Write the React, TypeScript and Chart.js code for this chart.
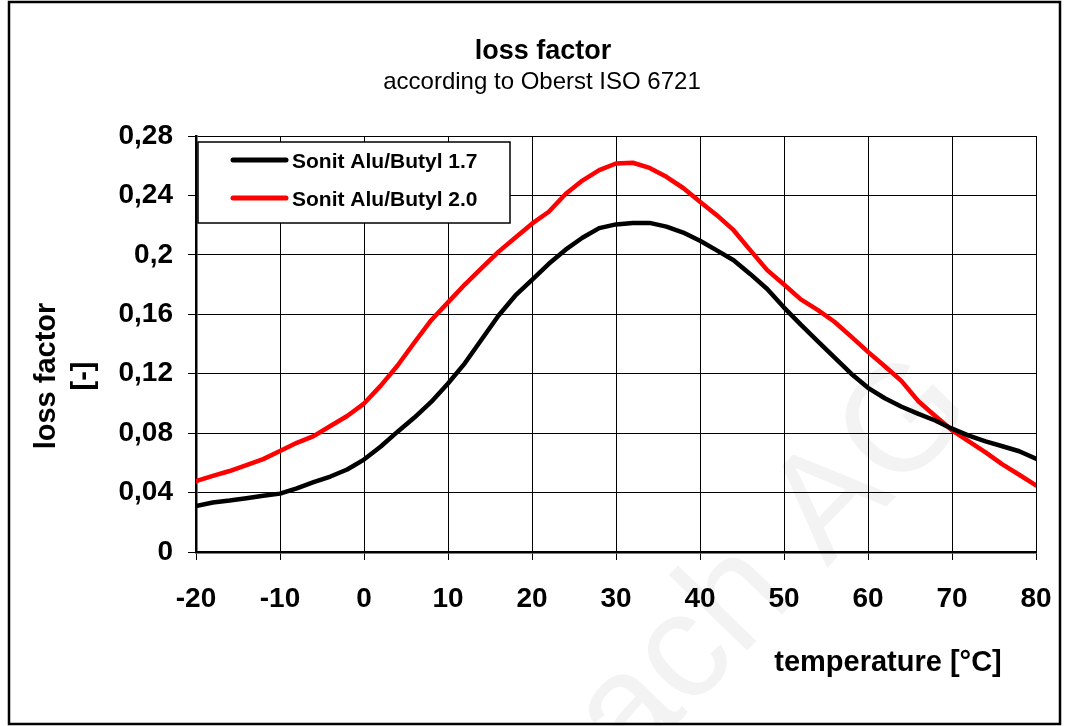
import React, { useEffect, useRef } from "react";
import { Chart, registerables } from "chart.js";

Chart.register(...registerables);

const temperatures = [
  -20, -18, -16, -14, -12, -10, -8, -6, -4, -2, 0, 2, 4, 6, 8, 10, 12, 14, 16, 18,
  20, 22, 24, 26, 28, 30, 32, 34, 36, 38, 40, 42, 44, 46, 48, 50, 52, 54, 56, 58,
  60, 62, 64, 66, 68, 70, 72, 74, 76, 78, 80,
];

const sonit17 = [
  0.031, 0.0333, 0.0346, 0.0362, 0.0378, 0.0393, 0.0428, 0.047, 0.0508, 0.0555,
  0.0622, 0.071, 0.081, 0.0905, 0.101, 0.1134, 0.127, 0.143, 0.159, 0.1725,
  0.1832, 0.194, 0.2035, 0.2115, 0.218, 0.2205, 0.2215, 0.2215, 0.219, 0.215,
  0.2095, 0.203, 0.1964, 0.187, 0.177, 0.1645, 0.153, 0.142, 0.131, 0.12,
  0.1105, 0.1035, 0.0978, 0.093, 0.0885, 0.083, 0.0783, 0.0745, 0.0712, 0.0678,
  0.0628,
];

const sonit20 = [
  0.0478, 0.0512, 0.0545, 0.0584, 0.0625, 0.068, 0.0735, 0.078, 0.0848, 0.0915,
  0.0999, 0.112, 0.1255, 0.141, 0.156, 0.168, 0.18, 0.191, 0.202, 0.2115,
  0.221, 0.229, 0.241, 0.25, 0.257, 0.2615, 0.262, 0.2585, 0.2525, 0.245,
  0.2357, 0.2267, 0.2166, 0.203, 0.1897, 0.18, 0.17, 0.163, 0.155, 0.145,
  0.1347, 0.125, 0.115, 0.1015, 0.0915, 0.0819, 0.0745, 0.067, 0.059, 0.052,
  0.0449,
];

const xTickLabels = ["-20", "-10", "0", "10", "20", "30", "40", "50", "60", "70", "80"];
const yTickLabels = ["0", "0,04", "0,08", "0,12", "0,16", "0,2", "0,24", "0,28"];
const seriesNames = ["Sonit Alu/Butyl 1.7", "Sonit Alu/Butyl 2.0"];
const seriesColors = ["#000000", "#ff0000"];
const titleText = "loss factor";
const subtitleText = "according to Oberst ISO 6721";
const yTitleLines = ["loss factor", "[-]"];
const xTitleText = "temperature [°C]";
const watermarkText = "ach AG";

const FONT = '"Liberation Sans", Arial, Helvetica, sans-serif';

const decorations = {
  id: "decorations",
  beforeDraw(chart: any) {
    const ctx = chart.ctx as CanvasRenderingContext2D;
    ctx.save();
    ctx.fillStyle = "#ffffff";
    ctx.fillRect(0, 0, chart.width, chart.height);
    ctx.translate(630, 772);
    ctx.rotate((-46 * Math.PI) / 180);
    ctx.font = `150px ${FONT}`;
    ctx.fillStyle = "#f3f3f3";
    ctx.textAlign = "left";
    ctx.textBaseline = "alphabetic";
    ctx.fillText(watermarkText, 0, 0);
    ctx.restore();
  },
  afterDraw(chart: any) {
    const ctx = chart.ctx as CanvasRenderingContext2D;
    ctx.save();
    // outer frame
    ctx.strokeStyle = "#000";
    ctx.lineWidth = 2.5;
    ctx.strokeRect(9, 2, 1051, 722);

    // titles
    ctx.fillStyle = "#000";
    ctx.textAlign = "center";
    ctx.textBaseline = "alphabetic";
    ctx.font = `bold 27px ${FONT}`;
    ctx.fillText(titleText, 543, 59);
    ctx.font = `24px ${FONT}`;
    ctx.fillText(subtitleText, 542, 89);

    // y axis title (two rotated lines)
    ctx.font = `bold 29px ${FONT}`;
    ctx.save();
    ctx.translate(55, 376);
    ctx.rotate(-Math.PI / 2);
    ctx.fillText(yTitleLines[0], 0, 0);
    ctx.restore();
    ctx.save();
    ctx.translate(92, 376);
    ctx.rotate(-Math.PI / 2);
    ctx.fillText(yTitleLines[1], 0, 0);
    ctx.restore();

    // x axis title
    ctx.fillText(xTitleText, 888, 671);

    // legend
    const bx = 198, by = 142, bw = 312, bh = 81;
    ctx.fillStyle = "#fff";
    ctx.fillRect(bx, by, bw, bh);
    ctx.strokeStyle = "#000";
    ctx.lineWidth = 1.5;
    ctx.strokeRect(bx, by, bw, bh);
    const rows = [160, 198];
    ctx.font = `bold 21px ${FONT}`;
    ctx.textAlign = "left";
    ctx.textBaseline = "middle";
    seriesNames.forEach((name, i) => {
      ctx.strokeStyle = seriesColors[i];
      ctx.lineWidth = 5;
      ctx.lineCap = "round";
      ctx.beginPath();
      ctx.moveTo(233, rows[i]);
      ctx.lineTo(286, rows[i]);
      ctx.stroke();
      ctx.fillStyle = "#000";
      ctx.fillText(name, 292, rows[i] + 2);
    });
    ctx.restore();
  },
};

export default function App() {
  const canvasRef = useRef<HTMLCanvasElement | null>(null);

  useEffect(() => {
    if (!canvasRef.current) return;
    const datasets = [sonit17, sonit20].map((vals, i) => ({
      label: seriesNames[i],
      data: temperatures.map((t, j) => ({ x: t, y: vals[j] })),
      borderColor: seriesColors[i],
      backgroundColor: seriesColors[i],
      borderWidth: 4.5,
      pointRadius: 0,
      tension: 0,
      borderJoinStyle: "round" as const,
      borderCapStyle: "round" as const,
      fill: false,
    }));

    const chart = new Chart(canvasRef.current, {
      type: "line",
      data: { datasets },
      plugins: [decorations],
      options: {
        animation: false,
        responsive: false,
        maintainAspectRatio: false,
        layout: { padding: { top: 136, right: 32, left: 0, bottom: 0 } },
        plugins: {
          legend: { display: false },
          title: { display: false },
          tooltip: { enabled: false },
        },
        scales: {
          x: {
            type: "linear",
            min: -20,
            max: 80,
            afterFit: (scale: any) => {
              scale.height = 174;
              scale.paddingRight = 0;
              scale.paddingLeft = 0;
            },
            ticks: {
              stepSize: 10,
              padding: 22,
              color: "#000",
              font: { family: FONT, size: 28, weight: "bold" },
              callback: (_v: any, index: number) => xTickLabels[index],
            },
            grid: {
              color: "#000",
              lineWidth: 1,
              drawTicks: true,
              tickLength: 8,
            },
            border: { display: true, color: "#000", width: 2.5 },
          },
          y: {
            type: "linear",
            min: 0,
            max: 0.28,
            afterFit: (scale: any) => {
              scale.width = 196;
              scale.paddingTop = 0;
              scale.paddingBottom = 0;
            },
            ticks: {
              stepSize: 0.04,
              padding: 15,
              color: "#000",
              font: { family: FONT, size: 28, weight: "bold" },
              callback: (_v: any, index: number) => yTickLabels[index],
            },
            grid: {
              color: "#000",
              lineWidth: 1,
              drawTicks: true,
              tickLength: 8,
            },
            border: { display: true, color: "#000", width: 2.5 },
          },
        },
      },
    });
    return () => chart.destroy();
  }, []);

  return (
    <div style={{ position: "fixed", left: 0, top: 0, width: 1068, height: 726, background: "#fff" }}>
      <canvas ref={canvasRef} width={1068} height={726} style={{ width: 1068, height: 726, display: "block" }} />
    </div>
  );
}
